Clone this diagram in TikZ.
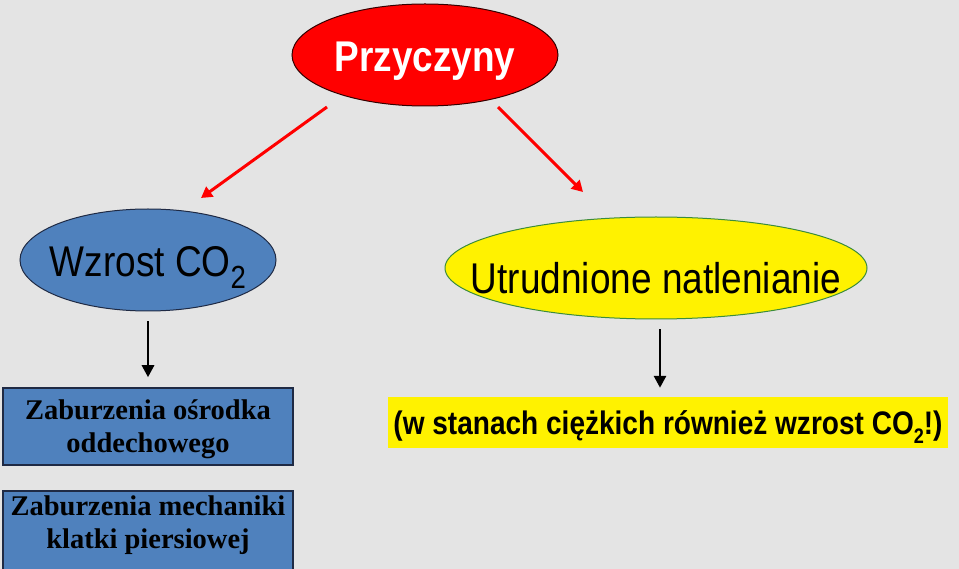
\documentclass[tikz,border=0pt]{standalone}
\usepackage{fontspec}
\setmainfont{Liberation Serif}
\newfontfamily\narrowsans[FakeStretch=0.86]{Liberation Sans}
\usetikzlibrary{shapes.geometric,arrows.meta}
\definecolor{bgray}{HTML}{E4E4E4}
\definecolor{obblue}{HTML}{4F81BD}
\definecolor{navyline}{HTML}{1F2A44}
\definecolor{ygreen}{HTML}{3C8C3C}
\newcommand\lowsub[2]{\raisebox{-0.27em}{\fontsize{#1}{#1}\selectfont #2}}
\begin{document}
\begin{tikzpicture}[x=1pt,y=-1pt,
  ell/.style={ellipse, draw, line width=1pt, inner sep=0pt, minimum height=102pt},
  sansbig/.style={inner sep=0pt, anchor=base, font=\narrowsans\fontsize{43}{50}\selectfont},
  boxshape/.style={draw=navyline, fill=obblue, line width=1.5pt, inner sep=0pt},
  boxtext/.style={inner sep=0pt, align=center, font=\bfseries\fontsize{28.5}{33}\selectfont},
  redarrow/.style={draw=red, line width=3pt, -{Triangle[length=11pt,width=12pt]}},
  blackarrow/.style={draw=black, line width=2.8pt, -{Triangle[length=12pt,width=12pt]}}]
\useasboundingbox (0,0) rectangle (959,569);
\fill[bgray] (0,0) rectangle (959,569);

\node[ell, fill=red, draw=black!80!red, minimum width=266pt] (przy) at (425,55) {};
\node[sansbig, text=white, font=\narrowsans\bfseries\fontsize{43}{50}\selectfont] (przyT) at ([yshift=-17pt]przy.center) {Przyczyny};

\node[ell, fill=obblue, draw=navyline, minimum width=256pt] (wzrost) at (148,260) {};
\node[sansbig] (wzrostT) at ([yshift=-17pt]wzrost.center) {Wzrost CO\lowsub{32}{2}};

\node[ell, fill=yellow, draw=ygreen, minimum width=422pt] (utr) at (656,268) {};
\node[sansbig] (utrT) at ([yshift=-26pt]utr.center) {Utrudnione natlenianie};

\node[boxshape, minimum width=290pt, minimum height=77pt] (box1) at (148,426.5) {};
\node[boxtext] (box1T) at (148,429.5) {Zaburzenia ośrodka\\oddechowego};

\node[boxshape, minimum width=290pt, minimum height=90pt, anchor=north] (box2) at (148,490) {};
\node[boxtext] (box2T) at (148,525.5) {Zaburzenia mechaniki\\klatki piersiowej};

\node[fill=yellow, minimum width=560pt, minimum height=51pt, inner sep=0pt] (ybox) at (668,422.5) {};
\node[inner sep=0pt, anchor=base, font=\narrowsans\bfseries\fontsize{32.6}{36}\selectfont] (yboxT) at ([yshift=-12.5pt]ybox.center) {(w stanach ciężkich również wzrost CO\lowsub{21}{2}!)};

\coordinate (r1s) at (327,107);
\coordinate (r1e) at (201,198);
\coordinate (r2s) at (498,107);
\coordinate (r2e) at (583,192);
\draw[redarrow] (r1s) -- (r1e);
\draw[redarrow] (r2s) -- (r2e);

\draw[blackarrow, shorten <=10pt, shorten >=10pt] (wzrost.south) -- (box1.north);
\draw[blackarrow, shorten <=10pt, shorten >=9pt] ([xshift=4pt]utr.south) -- ([xshift=4pt]utr.south |- ybox.north);
\end{tikzpicture}
\end{document}
